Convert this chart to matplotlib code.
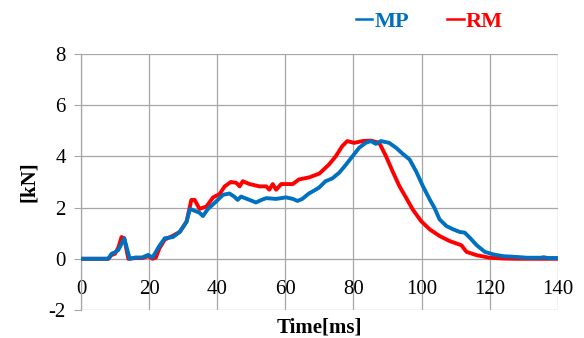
import matplotlib
matplotlib.use("Agg")
import matplotlib.pyplot as plt

# ── Force histories [kN] vs time [ms] ────────────────────────────────────────
mp_time = [0, 8, 9, 10, 11, 12.7, 14.3, 16, 18, 19.7, 21, 23, 24.6, 27, 29, 31, 32,
           34.8, 35.8, 37.3, 39.7, 41.7, 43.6, 45, 46, 47, 49.5, 51.4, 53, 54.4,
           57.3, 60.2, 62.2, 63.6, 65, 66.9, 68, 69.9, 71.8, 73.8, 75.8, 77.7,
           79.7, 81.7, 83.6, 85.1, 86.6, 88.1, 90.5, 92.5, 94.5, 96.5, 98.4,
           100.4, 102.4, 103.8, 105.3, 107.3, 109.3, 111.2, 112.7, 114.2, 116.2,
           118.6, 121.1, 124, 128, 131, 135, 135.9, 137, 140]
mp_force = [0, 0, 0.2, 0.25, 0.35, 0.8, 0, 0.05, 0.05, 0.15, 0.05, 0.5, 0.8, 0.85,
            1.05, 1.45, 1.95, 1.8, 1.67, 1.95, 2.24, 2.5, 2.55, 2.43, 2.3, 2.43,
            2.3, 2.2, 2.3, 2.37, 2.34, 2.4, 2.34, 2.26, 2.34, 2.55, 2.63, 2.78,
            3.03, 3.14, 3.36, 3.66, 4.0, 4.34, 4.53, 4.6, 4.49, 4.6, 4.53, 4.34,
            4.1, 3.88, 3.42, 2.84, 2.32, 1.99, 1.54, 1.28, 1.15, 1.05, 1.02, 0.82,
            0.53, 0.27, 0.17, 0.1, 0.07, 0.04, 0.04, 0.06, 0.03, 0.03]

rm_time = [0, 8, 9, 10, 11, 11.9, 12.7, 13.9, 16, 18, 19.7, 21, 22, 23, 24.6, 27,
           29, 31, 32.4, 33.4, 34.8, 36.8, 38.8, 40.7, 42.2, 44, 45.6, 46.6, 47.5,
           49.5, 52.4, 54.4, 55.3, 56.3, 57.3, 58.8, 62.2, 64, 67, 70, 72.8, 74.8,
           76.7, 78.2, 80.2, 82.7, 85.1, 87.6, 89.6, 91.5, 93.5, 95.5, 97.4, 99.9,
           102.4, 105.3, 108.3, 111.7, 113.2, 116.2, 120, 124, 128, 140]
rm_force = [0, 0, 0.15, 0.2, 0.45, 0.85, 0.8, 0, 0.03, 0.03, 0.1, 0, 0.05, 0.4,
            0.75, 0.9, 1.05, 1.45, 2.3, 2.3, 1.95, 2.04, 2.4, 2.53, 2.83, 3.0,
            2.97, 2.83, 3.03, 2.92, 2.83, 2.83, 2.7, 2.92, 2.7, 2.92, 2.92, 3.1,
            3.18, 3.33, 3.68, 4.0, 4.4, 4.6, 4.53, 4.6, 4.62, 4.53, 4.0, 3.42,
            2.84, 2.38, 1.93, 1.47, 1.15, 0.89, 0.69, 0.53, 0.27, 0.14, 0.04,
            0.01, 0, 0]

x_ticks = [0, 20, 40, 60, 80, 100, 120, 140]
y_ticks = [-2, 0, 2, 4, 6, 8]

plt.rcParams["font.family"] = ["Liberation Serif", "DejaVu Serif"]
plt.rcParams["axes.unicode_minus"] = False

fig = plt.figure(figsize=(5.84, 3.38), dpi=100)
ax = fig.add_axes([0.1387, 0.083, 0.8163, 0.757])

ax.plot(mp_time, mp_force, color="#0070C0", lw=2.8, label="MP", zorder=4,
        solid_joinstyle="round")
ax.plot(rm_time, rm_force, color="#FF0000", lw=2.8, label="RM", zorder=3,
        solid_joinstyle="round")

ax.set_xlim(0, 140)
ax.set_ylim(-2, 8)
ax.set_xticks(x_ticks)
ax.set_yticks(y_ticks)
ax.grid(True, color="#A6A6A6", lw=0.9)
ax.set_axisbelow(True)

for s in ["top", "right"]:
    ax.spines[s].set_visible(False)
ax.spines["left"].set_color("#A6A6A6")
ax.spines["left"].set_linewidth(0.9)
# horizontal axis crosses at zero
ax.spines["bottom"].set_position(("data", 0))
ax.spines["bottom"].set_visible(False)

ax.tick_params(axis="y", length=5, color="#A6A6A6", labelsize=15, pad=6)
ax.tick_params(axis="x", length=0, labelsize=15, pad=15)

ax.set_xlabel("Time[ms]", fontsize=15, fontweight="bold")
ax.xaxis.set_label_coords(0.5, -0.03)
ax.set_ylabel("[kN]", fontsize=15, fontweight="bold", labelpad=7)

handles, labels = ax.get_legend_handles_labels()
leg = fig.legend(handles, labels, loc="center", bbox_to_anchor=(0.735, 0.935),
                 ncol=2, frameon=False, handlelength=0.75, handletextpad=0.1,
                 columnspacing=1.7, labelcolor="linecolor",
                 prop={"size": 16, "weight": "bold"})
for line in leg.get_lines():
    line.set_linewidth(1.8)

fig.savefig("out.png", dpi=100)
